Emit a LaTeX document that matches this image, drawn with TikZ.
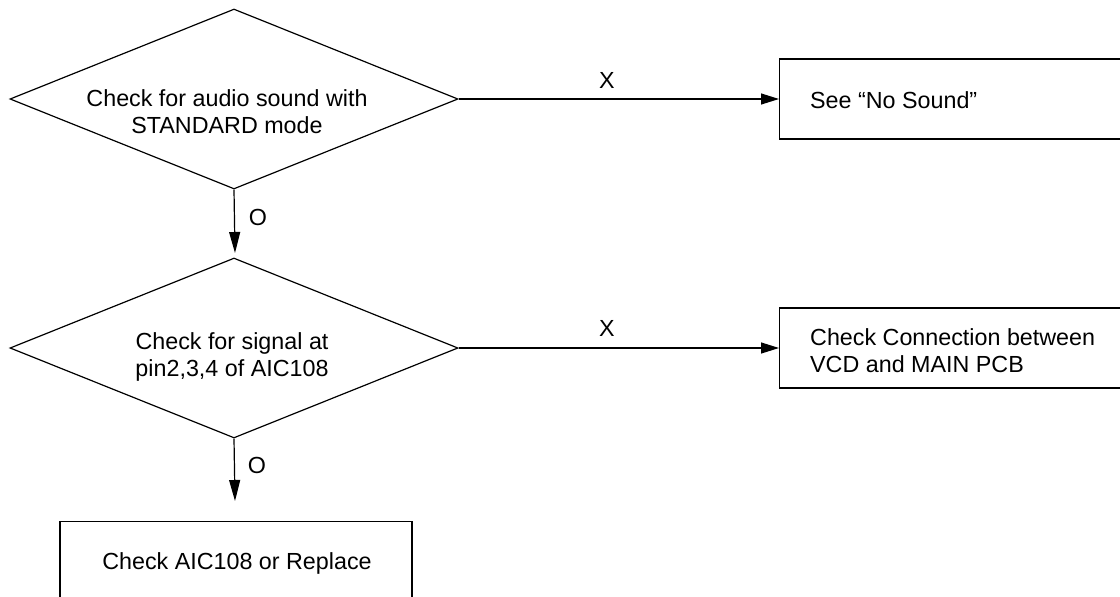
\documentclass[tikz,border=0pt]{standalone}
\usepackage{fontspec}
\setmainfont{Liberation Sans}
\usetikzlibrary{shapes.geometric,arrows.meta}
\begin{document}
\begin{tikzpicture}[x=1pt,y=-1pt,
  every node/.style={font=\fontsize{23.3}{27}\selectfont},
  decision/.style={draw,line width=1.2pt,shape=diamond,aspect=2.49,minimum width=448pt,minimum height=180pt,inner sep=0pt},
  actbox/.style={draw,line width=1.2pt,rectangle,inner sep=0pt},
  txt/.style={inner sep=0pt,align=center},
  conn/.style={line width=1.2pt,-{Triangle[length=18pt,width=11pt]}},
  vconn/.style={line width=1.2pt,-{Triangle[length=21pt,width=11pt]}},
  lbl/.style={inner sep=0pt}]
\useasboundingbox (0,0) rectangle (1120,597);
\node[decision] (d1) at (234,99) {};
\node[decision] (d2) at (234,348) {};
\node[txt,anchor=base] (d1t) at (227,133) {Check for audio sound with\\STANDARD mode};
\node[txt,anchor=base] (d2t) at (232,376) {Check for signal at\\pin2,3,4 of AIC108};
\node[actbox,anchor=west,minimum width=400pt,minimum height=80pt] (b1) at (779,99) {};
\node[actbox,anchor=west,minimum width=400pt,minimum height=80pt] (b2) at (779,348) {};
\node[actbox,anchor=north,minimum width=352pt,minimum height=100pt] (b3) at (236,521) {};
\node[lbl,anchor=base west] (b1t) at (810,108) {See “No Sound”};
\node[txt,anchor=base west,align=left] (b2t) at (810,372) {Check Connection between\\VCD and MAIN PCB};
\node[lbl,anchor=base] (b3t) at (237,569) {Check AIC108 or Replace};
\coordinate (a1e) at (235,253);
\coordinate (a2e) at (235,501);
\draw[conn] (d1.east) -- (b1.west);
\draw[conn] (d2.east) -- (b2.west);
\draw[vconn] (d1.south) -- (a1e);
\draw[vconn] (d2.south) -- (a2e);
\node[lbl] (x1) at (607,80) {X};
\node[lbl] (x2) at (607,328) {X};
\node[lbl] (o1) at (258,217) {O};
\node[lbl] (o2) at (257,465) {O};
\end{tikzpicture}
\end{document}
